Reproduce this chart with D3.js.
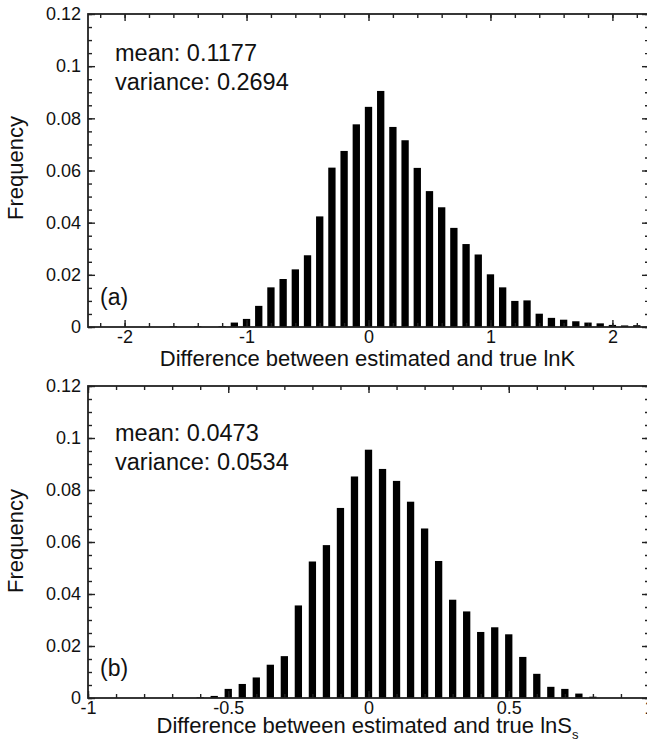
<!DOCTYPE html>
<html>
<head>
<meta charset="utf-8">
<script src="https://cdn.jsdelivr.net/npm/d3@7"></script>
<style>
body { margin: 0; background: #fff; }
svg text { font-family: "Liberation Sans", Arial, Helvetica, sans-serif; fill: #111; }
</style>
</head>
<body>
<svg id="chart" width="647" height="744"></svg>
<script>
// panel (a): error in lnK, bins of 0.1
var binsA = [-1.6, -1.5, -1.4, -1.3, -1.2, -1.1, -1.0, -0.9, -0.8, -0.7, -0.6, -0.5, -0.4, -0.3, -0.2, -0.1,
    0, 0.1, 0.2, 0.3, 0.4, 0.5, 0.6, 0.7, 0.8, 0.9, 1.0, 1.1, 1.2, 1.3, 1.4, 1.5, 1.6, 1.7, 1.8, 1.9, 2.0, 2.1, 2.2];
var freqA = [0.0003, 0, 0.0003, 0, 0.0003, 0.0017, 0.0031, 0.0081, 0.0152, 0.0184, 0.0221, 0.0275, 0.0424, 0.0611, 0.0675, 0.0777,
    0.0844, 0.0905, 0.0767, 0.0716, 0.0610, 0.0521, 0.0459, 0.0380, 0.0318, 0.0278, 0.0202, 0.0152, 0.0100, 0.0102, 0.0051, 0.0035,
    0.0028, 0.0022, 0.0017, 0.0014, 0.0008, 0.0006, 0.0007];
var xTicksA = [-2, -1, 0, 1, 2];
var statsA = ["mean: 0.1177", "variance: 0.2694"];

// panel (b): error in lnSs, bins of 0.05
var binsB = [-0.6, -0.55, -0.5, -0.45, -0.4, -0.35, -0.3, -0.25, -0.2, -0.15, -0.1, -0.05,
    0, 0.05, 0.1, 0.15, 0.2, 0.25, 0.3, 0.35, 0.4, 0.45, 0.5, 0.55, 0.6, 0.65, 0.7, 0.75, 0.8];
var freqB = [0.0003, 0.0008, 0.0035, 0.0054, 0.0079, 0.0128, 0.0161, 0.0356, 0.0525, 0.0588, 0.0731, 0.0852,
    0.0955, 0.0881, 0.0835, 0.0755, 0.0652, 0.0527, 0.0378, 0.0333, 0.0254, 0.0272, 0.0245, 0.0158, 0.0093, 0.0043, 0.0035, 0.0017, 0.0005];
var xTicksB = [-1, -0.5, 0, 0.5, 1];
var statsB = ["mean: 0.0473", "variance: 0.0534"];

var yTicks = [0, 0.02, 0.04, 0.06, 0.08, 0.1, 0.12];
var yLabels = ["0", "0.02", "0.04", "0.06", "0.08", "0.1", "0.12"];

var svg = d3.select("#chart");
var left = 88, right = 649;

function styleAxis(sel, size) {
    sel.select(".domain").remove();
    sel.attr("font-size", size);
    sel.selectAll("line").attr("stroke", "#222").attr("stroke-width", 1.4);
}

function drawPanel(p) {
    var g = svg.append("g");
    var x = d3.scaleLinear().domain(p.xDomain).range([left, right]);
    var y = d3.scaleLinear().domain([0, 0.12]).range([p.bottom, p.top]);
    var yMinor = d3.range(0, 25).map(function (i) { return i * 0.005; });

    // bars
    var bw = (x(p.binWidth) - x(0)) * p.barFrac;
    g.selectAll("rect.bar")
        .data(p.bins)
        .enter().append("rect")
        .attr("class", "bar")
        .attr("x", function (d) { return x(d) - bw / 2; })
        .attr("y", function (d, i) { return y(p.freq[i]); })
        .attr("width", bw)
        .attr("height", function (d, i) { return y(0) - y(p.freq[i]); })
        .attr("fill", "#000");

    // minor ticks, all four sides pointing in
    g.append("g").attr("transform", "translate(0," + p.bottom + ")")
        .call(d3.axisBottom(x).tickValues(p.xMinor).tickSize(-4).tickFormat(""))
        .call(styleAxis, 0);
    g.append("g").attr("transform", "translate(0," + p.top + ")")
        .call(d3.axisTop(x).tickValues(p.xMinor).tickSize(-4).tickFormat(""))
        .call(styleAxis, 0);
    g.append("g").attr("transform", "translate(" + left + ",0)")
        .call(d3.axisLeft(y).tickValues(yMinor).tickSize(-4).tickFormat(""))
        .call(styleAxis, 0);
    g.append("g").attr("transform", "translate(" + right + ",0)")
        .call(d3.axisRight(y).tickValues(yMinor).tickSize(-4).tickFormat(""))
        .call(styleAxis, 0);

    // major ticks
    g.append("g").attr("transform", "translate(0," + p.bottom + ")")
        .call(d3.axisBottom(x).tickValues(p.xTicks).tickSize(-7).tickPadding(3)
            .tickFormat(function (d) { return String(d); }))
        .call(styleAxis, 18);
    g.append("g").attr("transform", "translate(0," + p.top + ")")
        .call(d3.axisTop(x).tickValues(p.xTicks).tickSize(-7).tickFormat(""))
        .call(styleAxis, 0);
    g.append("g").attr("transform", "translate(" + left + ",0)")
        .call(d3.axisLeft(y).tickValues(yTicks).tickSize(-7).tickPadding(7)
            .tickFormat(function (d, i) { return yLabels[i]; }))
        .call(styleAxis, 18);
    g.append("g").attr("transform", "translate(" + right + ",0)")
        .call(d3.axisRight(y).tickValues(yTicks).tickSize(-7).tickFormat(""))
        .call(styleAxis, 0);

    // frame
    g.append("rect")
        .attr("x", left).attr("y", p.top)
        .attr("width", right - left).attr("height", p.bottom - p.top)
        .attr("fill", "none").attr("stroke", "#222").attr("stroke-width", 1.8);

    // texts
    g.selectAll("text.stat")
        .data(p.stats)
        .enter().append("text")
        .attr("class", "stat")
        .attr("x", 115)
        .attr("y", function (d, i) { return p.statY + i * 28.6; })
        .attr("font-size", 23.5)
        .text(function (d) { return d; });

    g.append("text").attr("x", 100).attr("y", p.tagY).attr("font-size", 23).text(p.tag);

    g.append("text")
        .attr("transform", "translate(23," + p.yLabelY + ") rotate(-90)")
        .attr("text-anchor", "middle")
        .attr("font-size", 22)
        .text("Frequency");

    var xl = g.append("text")
        .attr("x", (left + right) / 2 - 1)
        .attr("y", p.xLabelY)
        .attr("text-anchor", "middle")
        .attr("font-size", 22)
        .text(p.xLabel);
    if (p.xSub) {
        xl.append("tspan").attr("font-size", 13).attr("dy", 6).text(p.xSub);
    }
}

drawPanel({
    bins: binsA, freq: freqA, xDomain: [-2.3, 2.3], xTicks: xTicksA,
    xMinor: d3.range(-11, 12).map(function (i) { return i * 0.2; }),
    binWidth: 0.1, barFrac: 0.6, top: 14, bottom: 327,
    stats: statsA, statY: 61, tag: "(a)", tagY: 305, yLabelY: 168,
    xLabel: "Difference between estimated and true lnK", xLabelY: 366
});

drawPanel({
    bins: binsB, freq: freqB, xDomain: [-1, 1], xTicks: xTicksB,
    xMinor: d3.range(-10, 11).map(function (i) { return i * 0.1; }),
    binWidth: 0.05, barFrac: 0.52, top: 386, bottom: 698,
    stats: statsB, statY: 441, tag: "(b)", tagY: 676, yLabelY: 541,
    xLabel: "Difference between estimated and true lnS", xSub: "s", xLabelY: 733
});
</script>
</body>
</html>
